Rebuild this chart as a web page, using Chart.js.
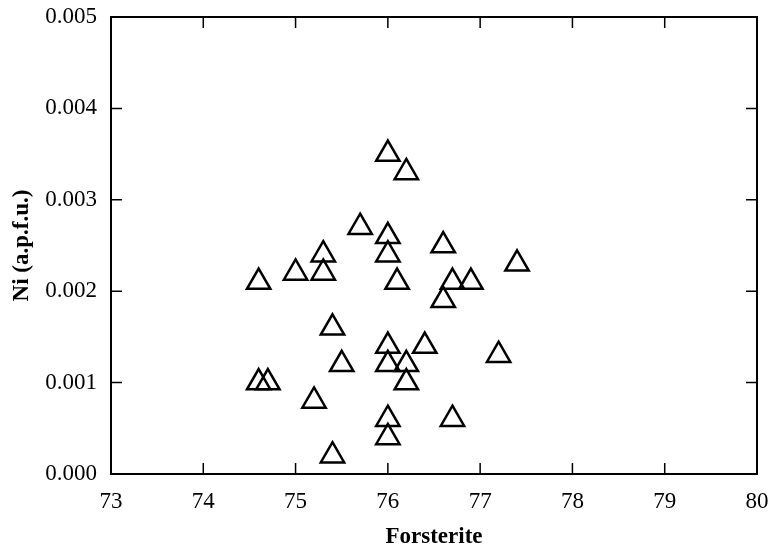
<!DOCTYPE html>
<html>
<head>
<meta charset="utf-8">
<script src="https://cdn.jsdelivr.net/npm/chart.js@4/dist/chart.umd.min.js"></script>
<style>
  html, body { margin: 0; padding: 0; background: #fff; }
  #wrap { width: 773px; height: 551px; }
</style>
</head>
<body>
<div id="wrap"><canvas id="chart" width="773" height="551"></canvas></div>
<script>
// Forsterite content vs Ni (a.p.f.u.), one entry per triangle
const forsterite = [
  74.6, 75.0, 75.3, 75.3, 75.7, 76.0, 76.2, 76.0, 76.0, 76.6,
  77.4, 76.1, 76.7, 76.9, 76.6, 76.0, 76.4, 76.0, 76.2, 76.2,
  77.2, 76.0, 76.7, 76.0, 75.4, 75.5, 74.6, 74.7, 75.2, 75.4
];
const ni = [
  0.0021, 0.0022, 0.0022, 0.0024, 0.0027, 0.0035, 0.0033, 0.0026, 0.0024, 0.0025,
  0.0023, 0.0021, 0.0021, 0.0021, 0.0019, 0.0014, 0.0014, 0.0012, 0.0012, 0.0010,
  0.0013, 0.0006, 0.0006, 0.0004, 0.0016, 0.0012, 0.0010, 0.0010, 0.0008, 0.0002
];
const xRange = [73, 80];
const yRange = [0, 0.005];

const serif = 'Liberation Serif, Times New Roman, serif';

// frame + inward tick marks on all four sides
const frameTicks = {
  id: 'frameTicks',
  beforeDatasetsDraw(chart) {
    const { ctx, chartArea: a, scales } = chart;
    const len = 11;
    ctx.save();
    ctx.strokeStyle = '#000';
    ctx.lineWidth = 1.5;
    ctx.beginPath();
    scales.x.ticks.forEach((t) => {
      const px = scales.x.getPixelForValue(t.value);
      ctx.moveTo(px, a.bottom);
      ctx.lineTo(px, a.bottom - len);
      ctx.moveTo(px, a.top);
      ctx.lineTo(px, a.top + len);
    });
    scales.y.ticks.forEach((t) => {
      const py = scales.y.getPixelForValue(t.value);
      ctx.moveTo(a.left, py);
      ctx.lineTo(a.left + len, py);
      ctx.moveTo(a.right, py);
      ctx.lineTo(a.right - len, py);
    });
    ctx.stroke();
    ctx.lineWidth = 2;
    ctx.strokeRect(a.left, a.top, a.right - a.left, a.bottom - a.top);
    ctx.restore();
  }
};

new Chart(document.getElementById('chart'), {
  type: 'scatter',
  data: {
    datasets: [{
      data: forsterite.map((x, i) => ({ x, y: ni[i] })),
      pointStyle: 'triangle',
      pointRadius: 13.5,
      borderWidth: 2.5,
      borderColor: '#000',
      backgroundColor: 'rgba(0,0,0,0)'
    }]
  },
  options: {
    responsive: false,
    animation: false,
    events: [],
    layout: { padding: { top: 17, right: 11, left: 0, bottom: 0 } },
    plugins: { legend: { display: false }, tooltip: { enabled: false } },
    scales: {
      x: {
        type: 'linear',
        min: xRange[0],
        max: xRange[1],
        afterFit: (s) => { s.height = 77; s.paddingLeft = 0; s.paddingRight = 0; },
        grid: { display: false, drawTicks: false },
        border: { display: false },
        ticks: { stepSize: 1, color: '#000', padding: 14, font: { family: serif, size: 23 } },
        title: {
          display: true,
          text: 'Forsterite',
          color: '#000',
          padding: { top: 0, bottom: 0 },
          font: { family: serif, size: 23, weight: 'bold' }
        }
      },
      y: {
        type: 'linear',
        min: yRange[0],
        max: yRange[1],
        afterFit: (s) => { s.width = 111; s.paddingTop = 0; s.paddingBottom = 0; },
        grid: { display: false, drawTicks: false },
        border: { display: false },
        ticks: {
          stepSize: 0.001,
          color: '#000',
          padding: 14,
          font: { family: serif, size: 23 },
          callback: (v) => v.toFixed(3)
        },
        title: {
          display: true,
          text: 'Ni (a.p.f.u.)',
          color: '#000',
          padding: { top: 8, bottom: 0 },
          font: { family: serif, size: 23, weight: 'bold' }
        }
      }
    }
  },
  plugins: [frameTicks]
});
</script>
</body>
</html>
